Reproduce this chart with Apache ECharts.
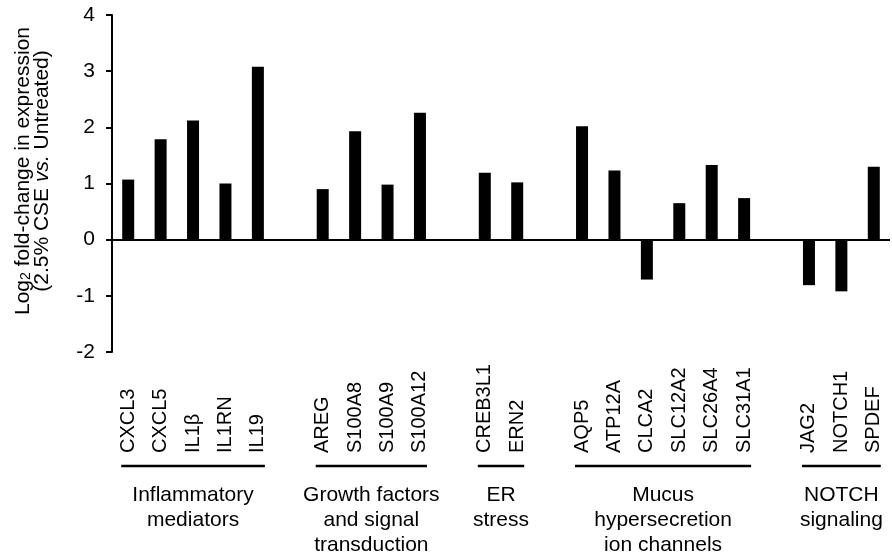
<!DOCTYPE html>
<html>
<head>
<meta charset="utf-8">
<script src="https://cdn.jsdelivr.net/npm/echarts@6/dist/echarts.min.js"></script>
<style>
  html, body { margin: 0; padding: 0; background: #fff; }
  #chart { width: 892px; height: 559px; }
</style>
</head>
<body>
<div id="chart"></div>
<script>
// Log2 fold-change per gene, grouped by functional category
const inflammatoryGenes = ['CXCL3', 'CXCL5', 'IL1β', 'IL1RN', 'IL19'];
const inflammatoryValues = [1.07, 1.79, 2.12, 1.00, 3.08];

const growthGenes = ['AREG', 'S100A8', 'S100A9', 'S100A12'];
const growthValues = [0.90, 1.93, 0.98, 2.26];

const erGenes = ['CREB3L1', 'ERN2'];
const erValues = [1.19, 1.02];

const mucusGenes = ['AQP5', 'ATP12A', 'CLCA2', 'SLC12A2', 'SLC26A4', 'SLC31A1'];
const mucusValues = [2.02, 1.23, -0.71, 0.65, 1.33, 0.74];

const notchGenes = ['JAG2', 'NOTCH1', 'SPDEF'];
const notchValues = [-0.81, -0.92, 1.30];

const groupNames = [
  'Inflammatory\nmediators',
  'Growth factors\nand signal\ntransduction',
  'ER\nstress',
  'Mucus\nhypersecretion\nion channels',
  'NOTCH\nsignaling'
];

const yTicks = [-2, -1, 0, 1, 2, 3, 4];

// Assemble one category axis with an empty slot between groups
const groups = [
  [inflammatoryGenes, inflammatoryValues],
  [growthGenes, growthValues],
  [erGenes, erValues],
  [mucusGenes, mucusValues],
  [notchGenes, notchValues]
];
const categories = [];
const values = [];
const groupSpans = [];
groups.forEach(function (g, gi) {
  if (gi > 0) { categories.push(''); values.push(null); }
  const start = categories.length;
  g[0].forEach(function (name, i) {
    categories.push(name);
    values.push(g[1][i]);
  });
  groupSpans.push([start, categories.length - 1, groupNames[gi]]);
});

const FONT = '"Liberation Sans", Arial, sans-serif';

const chart = echarts.init(document.getElementById('chart'), null, { renderer: 'canvas' });

chart.setOption({
  animation: false,
  backgroundColor: '#ffffff',
  grid: { left: 112, right: 2, top: 15, bottom: 207, containLabel: false },
  xAxis: {
    type: 'category',
    data: categories,
    boundaryGap: true,
    axisLine: { show: false, onZero: false },
    axisTick: { show: false },
    splitLine: { show: false },
    axisLabel: {
      interval: 0,
      rotate: 90,
      align: 'left',
      verticalAlign: 'middle',
      margin: 101,
      color: '#000',
      fontSize: 20,
      fontFamily: FONT
    }
  },
  yAxis: {
    type: 'value',
    min: yTicks[0],
    max: yTicks[yTicks.length - 1],
    interval: 1,
    axisLine: { show: true, lineStyle: { color: '#000', width: 2 } },
    axisTick: { show: true, inside: false, length: 6, lineStyle: { color: '#000', width: 2 } },
    splitLine: { show: false },
    axisLabel: {
      margin: 17,
      color: '#000',
      fontSize: 21,
      fontFamily: FONT
    }
  },
  graphic: [{
    type: 'text',
    x: 33,
    y: 171,
    rotation: Math.PI / 2,
    style: {
      text: '{n|Log}{sub|2}{n| fold-change in expression}\n{n|(2.5% CSE }{i|vs.}{n| Untreated)}',
      align: 'center',
      verticalAlign: 'middle',
      fill: '#000',
      fontSize: 21,
      fontFamily: FONT,
      rich: {
        n: { fontSize: 21, fontFamily: FONT, lineHeight: 19, align: 'center', fill: '#000' },
        sub: { fontSize: 14, fontFamily: FONT, lineHeight: 19, align: 'center', verticalAlign: 'bottom', padding: [8, 0, 0, 0], fill: '#000' },
        i: { fontSize: 21, fontFamily: FONT, fontStyle: 'italic', lineHeight: 19, align: 'center', fill: '#000' }
      }
    }
  }],
  series: [
    {
      type: 'bar',
      data: values,
      barWidth: 12,
      itemStyle: { color: '#000' },
      markLine: {
        silent: true,
        symbol: 'none',
        label: { show: false },
        lineStyle: { color: '#000', width: 2, type: 'solid' },
        data: [{ yAxis: 0 }]
      }
    },
    {
      // Group brackets and captions below the gene labels
      type: 'custom',
      clip: false,
      silent: true,
      encode: { x: [0, 1] },
      data: groupSpans,
      renderItem: function (params, api) {
        const start = api.value(0);
        const end = api.value(1);
        const name = groupSpans[params.dataIndex][2];
        const p0 = api.coord([start, 0]);
        const p1 = api.coord([end, 0]);
        const cs = params.coordSys;
        const bottom = cs.y + cs.height;
        const lineY = bottom + 114;
        return {
          type: 'group',
          children: [
            {
              type: 'line',
              shape: { x1: p0[0] - 7, y1: lineY, x2: p1[0] + 7, y2: lineY },
              style: { stroke: '#000', lineWidth: 2.5 }
            },
            {
              type: 'text',
              x: (p0[0] + p1[0]) / 2,
              y: bottom + 131,
              style: {
                text: name,
                align: 'center',
                verticalAlign: 'top',
                fill: '#000',
                fontSize: 21,
                lineHeight: 25,
                fontFamily: FONT
              }
            }
          ]
        };
      }
    }
  ]
});
</script>
</body>
</html>
